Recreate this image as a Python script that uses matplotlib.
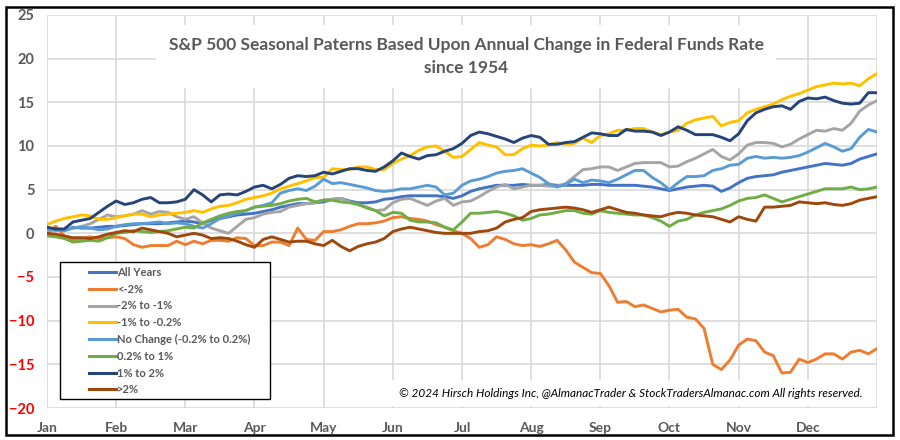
import numpy as np
import matplotlib
matplotlib.use("Agg")
import matplotlib.pyplot as plt
from matplotlib.patches import Rectangle

# S&P 500 seasonal pattern by annual fed funds change, 8 readings per month
months = ["Jan", "Feb", "Mar", "Apr", "May", "Jun", "Jul", "Aug", "Sep", "Oct", "Nov", "Dec"]
steps_per_month = 8

all_years = [0.6, 0.5, 0.3, 0.7, 0.6, 0.6, 0.7, 0.8, 0.8, 0.9, 1.0, 1.1, 1.1, 1.1, 1.2, 1.3,
             1.4, 1.3, 1.1, 1.5, 1.7, 1.9, 2.1, 2.2, 2.3, 2.5, 2.7, 3.0, 3.2, 3.4, 3.4, 3.5,
             3.6, 3.9, 4.0, 3.7, 3.5, 3.5, 3.6, 3.9, 4.0, 4.2, 4.3, 4.3, 4.3, 4.3, 4.2, 4.0,
             4.3, 4.8, 5.1, 5.3, 5.5, 5.5, 5.5, 5.6, 5.5, 5.5, 5.6, 5.5, 5.5, 5.5, 5.5, 5.6,
             5.6, 5.5, 5.5, 5.5, 5.5, 5.4, 5.3, 5.1, 4.9, 5.1, 5.3, 5.4, 5.5, 5.4, 4.8, 5.2,
             5.8, 6.3, 6.5, 6.6, 6.7, 7.0, 7.2, 7.4, 7.6, 7.8, 8.0, 7.9, 7.8, 8.0, 8.5, 8.8, 9.1]
lt_m2 = [0.0, 0.8, -0.3, -0.8, -0.6, -0.4, -0.6, -0.5, -0.4, -0.6, -1.3, -1.6, -1.4, -1.4, -1.4, -0.9,
         -1.3, -0.9, -1.2, -0.8, -0.8, -0.9, -0.5, -0.6, -1.4, -1.4, -1.0, -1.0, -1.4, 0.6, -0.7, -0.8,
         0.2, 0.2, 0.4, 0.8, 1.1, 1.1, 1.2, 1.4, 1.8, 1.9, 1.7, 1.6, 1.4, 1.0, 0.7, 0.3,
         0.0, -0.6, -1.6, -1.3, -0.4, -0.7, -1.2, -1.4, -1.3, -1.5, -1.2, -0.8, -1.9, -3.3, -3.9, -4.5,
         -4.6, -6.0, -7.9, -7.8, -8.4, -8.2, -8.6, -9.0, -8.8, -8.7, -9.6, -9.8, -10.9, -15.0, -15.6, -14.5,
         -12.8, -12.1, -12.3, -13.6, -14.0, -16.0, -15.9, -14.4, -14.8, -14.4, -13.8, -13.8, -14.4, -13.6, -13.4, -13.8, -13.2]
m2_m1 = [0.4, 0.3, 0.4, 0.6, 0.8, 1.1, 1.6, 2.1, 1.9, 2.0, 2.2, 2.6, 2.2, 2.5, 2.4, 1.9,
         1.6, 1.9, 1.2, 0.6, 0.3, 0.0, 0.8, 1.6, 1.8, 2.2, 2.4, 2.5, 3.0, 3.2, 3.4, 3.5,
         3.8, 3.9, 4.0, 3.6, 3.3, 3.0, 2.6, 2.7, 3.5, 3.9, 4.0, 3.6, 3.2, 3.7, 4.0, 3.2,
         3.6, 3.7, 4.2, 4.8, 5.3, 5.6, 5.1, 5.3, 5.5, 5.5, 5.4, 5.4, 5.7, 6.5, 7.3, 7.4,
         7.6, 7.6, 7.2, 7.6, 8.0, 8.1, 8.1, 8.1, 7.6, 7.7, 8.2, 8.6, 9.1, 9.6, 8.8, 8.4,
         9.1, 10.1, 10.4, 10.4, 10.3, 9.9, 10.2, 10.8, 11.3, 11.8, 11.7, 12.0, 11.8, 12.6, 14.0, 14.7, 15.2]
m1_m02 = [1.0, 1.4, 1.7, 1.9, 2.1, 2.0, 1.6, 1.6, 1.8, 2.0, 2.2, 2.2, 1.9, 2.1, 2.2, 2.3,
          2.4, 2.6, 2.4, 2.8, 3.1, 3.2, 3.5, 3.9, 4.1, 4.3, 4.6, 5.1, 5.4, 5.7, 6.0, 6.4,
          6.4, 7.4, 7.3, 7.3, 7.6, 7.6, 7.3, 7.3, 8.0, 8.5, 8.9, 9.5, 9.9, 10.0, 9.4, 8.7,
          8.8, 9.6, 10.4, 10.1, 9.9, 9.0, 9.0, 9.7, 10.1, 10.0, 10.1, 10.4, 10.2, 10.3, 10.9, 10.4,
          11.2, 11.4, 11.8, 11.8, 12.0, 12.0, 11.6, 11.3, 11.6, 11.8, 12.6, 13.0, 13.2, 13.4, 12.3, 12.7,
          12.9, 13.8, 14.2, 14.5, 14.8, 15.3, 15.7, 16.0, 16.4, 16.8, 17.0, 17.2, 17.1, 17.2, 16.9, 17.7, 18.3]
no_change = [0.5, 0.4, 0.3, 0.6, 0.7, 0.6, 0.4, 0.5, 0.8, 1.0, 1.1, 1.1, 1.2, 1.3, 1.1, 1.2,
             1.1, 0.8, 0.6, 1.1, 1.7, 2.0, 2.3, 2.6, 3.0, 3.2, 3.5, 4.6, 4.9, 5.1, 4.9, 5.4,
             6.2, 5.7, 5.8, 5.6, 5.4, 5.2, 4.9, 4.8, 4.9, 5.1, 5.1, 5.3, 5.5, 5.3, 4.4, 4.6,
             5.5, 6.0, 6.2, 6.5, 6.9, 7.1, 7.2, 7.4, 6.9, 6.4, 5.7, 5.3, 5.6, 6.2, 5.8, 6.1,
             6.0, 5.8, 6.2, 6.7, 7.2, 7.2, 6.4, 5.8, 5.0, 5.8, 6.5, 6.5, 6.6, 7.2, 7.4, 7.8,
             7.9, 8.6, 8.8, 8.6, 8.7, 8.6, 8.7, 8.9, 9.3, 9.8, 10.3, 9.9, 9.4, 9.7, 11.0, 11.9, 11.6]
p02_p1 = [-0.3, -0.4, -0.6, -1.0, -0.9, -0.8, -0.9, -0.5, 0.0, 0.1, 0.3, 0.2, 0.1, 0.2, 0.3, 0.5,
          0.7, 0.6, 1.2, 1.6, 2.0, 2.3, 2.5, 2.6, 3.0, 3.1, 3.2, 3.4, 3.7, 3.9, 4.0, 3.6,
          3.8, 3.8, 3.6, 3.5, 3.3, 2.9, 2.6, 2.0, 2.4, 2.3, 1.5, 1.3, 1.3, 1.2, 0.7, 0.4,
          1.3, 2.3, 2.3, 2.4, 2.5, 2.3, 2.0, 1.5, 1.7, 2.1, 2.2, 2.4, 2.6, 2.6, 2.3, 2.2,
          2.6, 2.4, 2.3, 2.2, 2.1, 2.1, 1.8, 1.4, 0.8, 1.4, 1.6, 2.1, 2.4, 2.6, 2.8, 3.2,
          3.7, 4.0, 4.1, 4.4, 4.0, 3.6, 3.9, 4.2, 4.5, 4.8, 5.1, 5.1, 5.1, 5.3, 5.0, 5.1, 5.3]
p1_p2 = [0.7, 0.5, 0.5, 1.3, 1.5, 1.7, 2.4, 3.1, 3.7, 3.3, 3.5, 3.9, 4.1, 3.5, 3.5, 3.6,
         3.9, 5.0, 4.4, 3.6, 4.4, 4.5, 4.4, 4.8, 5.3, 5.5, 5.1, 5.6, 6.3, 6.6, 6.5, 6.6,
         7.0, 6.8, 7.1, 7.4, 7.4, 7.2, 7.1, 7.6, 8.3, 9.2, 8.8, 8.5, 8.9, 9.0, 9.4, 9.7,
         10.3, 11.2, 11.6, 11.4, 11.1, 10.8, 10.4, 10.9, 11.2, 11.0, 10.2, 10.2, 10.4, 10.5, 11.0, 11.5,
         11.4, 11.2, 11.2, 11.9, 11.7, 11.7, 11.6, 11.2, 11.6, 12.2, 11.8, 11.3, 11.3, 11.3, 11.0, 10.6,
         11.4, 12.9, 13.8, 14.2, 14.5, 14.6, 14.2, 15.1, 15.5, 15.4, 15.6, 15.2, 14.9, 14.8, 14.9, 16.1, 16.1]
gt_p2 = [0.0, -0.1, -0.3, -0.5, -0.5, -0.6, -0.4, -0.1, 0.1, 0.3, 0.2, 0.6, 0.4, 0.2, 0.0, -0.4,
         -0.2, 0.0, -0.2, -0.6, -0.5, -0.6, -0.9, -1.3, -1.6, -0.7, -0.4, -0.7, -1.0, -0.9, -0.9, -1.2,
         -1.4, -0.8, -1.5, -2.0, -1.5, -1.2, -1.0, -0.6, 0.2, 0.5, 0.7, 0.5, 0.3, 0.1, 0.0, 0.0,
         0.0, 0.0, 0.2, 0.3, 0.6, 1.3, 1.6, 1.8, 2.5, 2.7, 2.8, 2.9, 3.0, 2.9, 2.7, 2.4,
         2.7, 3.0, 2.7, 2.4, 2.3, 2.1, 2.0, 1.9, 2.2, 2.4, 2.3, 2.1, 2.0, 1.9, 1.6, 1.3,
         1.9, 1.6, 1.4, 3.0, 3.0, 3.1, 3.2, 3.6, 3.5, 3.4, 3.5, 3.3, 3.2, 3.4, 3.8, 4.0, 4.2]

series = [
    ("All Years", all_years, "#4472C4"),
    ("<-2%", lt_m2, "#ED7D31"),
    ("-2% to -1%", m2_m1, "#A5A5A5"),
    ("-1% to -0.2%", m1_m02, "#FFC000"),
    ("No Change (-0.2% to 0.2%)", no_change, "#5B9BD5"),
    ("0.2% to 1%", p02_p1, "#70AD47"),
    ("1% to 2%", p1_p2, "#264478"),
    (">2%", gt_p2, "#9E480E"),
]

plt.rcParams['font.family'] = ['Lato', 'DejaVu Sans']
grey = "#595959"

fig = plt.figure(figsize=(9, 4.4), dpi=100)
ax = fig.add_axes([47 / 900, 1 - 408 / 440, 830 / 900, 393 / 440])

x = np.arange(len(all_years))
for name, vals, col in series:
    ax.plot(x, vals, color=col, lw=2.1, label=name, solid_joinstyle="round")

ax.set_xlim(0, len(all_years) - 1)
ax.set_ylim(-20, 25)
ax.set_xticks(np.arange(0, len(all_years), steps_per_month))
ax.set_yticks(np.arange(-20, 26, 5))
ax.set_xticklabels(months + [""], fontsize=10, fontweight="bold", color=grey)
ax.set_yticklabels([f"{v}".replace("-", "\u2212") for v in range(-20, 26, 5)],
                   fontsize=10.5, fontweight="bold")
for lab, v in zip(ax.get_yticklabels(), range(-20, 26, 5)):
    lab.set_color("#FF0000" if v < 0 else grey)
ax.tick_params(length=0)
ax.tick_params(axis="x", pad=10)
ax.tick_params(axis="y", pad=9)
for s in ax.spines.values():
    s.set_visible(False)
ax.set_axisbelow(True)
ax.grid(color="#D9D9D9", lw=1.2)

ax.text(0.505, 0.895, "S&P 500 Seasonal Paterns Based Upon Annual Change in Federal Funds Rate\nsince 1954",
        transform=ax.transAxes, ha="center", va="center", fontsize=12.5, fontweight="bold",
        color=grey, linespacing=1.5,
        bbox=dict(facecolor="white", edgecolor="none", boxstyle="square,pad=0.7"))

ax.text(0.982, 0.038,
        "\u00a9 2024 Hirsch Holdings Inc, @AlmanacTrader & StockTradersAlmanac.com All rights reserved.",
        transform=ax.transAxes, ha="right", va="center", fontsize=8.5, style="italic", color="black",
        bbox=dict(facecolor="white", edgecolor="none", boxstyle="square,pad=0.6"))

# legend, drawn over a wider white frame
leg = ax.legend(loc="upper left", bbox_to_anchor=(80 / 900, 1 - 258 / 440), bbox_transform=fig.transFigure,
                frameon=False, fontsize=8, handlelength=2.4, handletextpad=0.15, labelspacing=0.52,
                borderpad=0.3)
for t in leg.get_texts():
    t.set_fontweight("bold")
    t.set_color(grey)
for h in leg.legend_handles:
    h.set_linewidth(2.2)
leg.set_zorder(6)
ax.add_patch(Rectangle((60 / 900, 1 - 399 / 440), 210 / 900, 137 / 440,
                       transform=fig.transFigure, facecolor="white",
                       edgecolor="black", lw=1.0, zorder=5, clip_on=False))

# outer frame
fig.patches.append(Rectangle((6 / 900, 1 - 435 / 440), 887 / 900, 428 / 440,
                             transform=fig.transFigure, fill=False, edgecolor="black", lw=1.8))

fig.savefig("out.png", dpi=100)
